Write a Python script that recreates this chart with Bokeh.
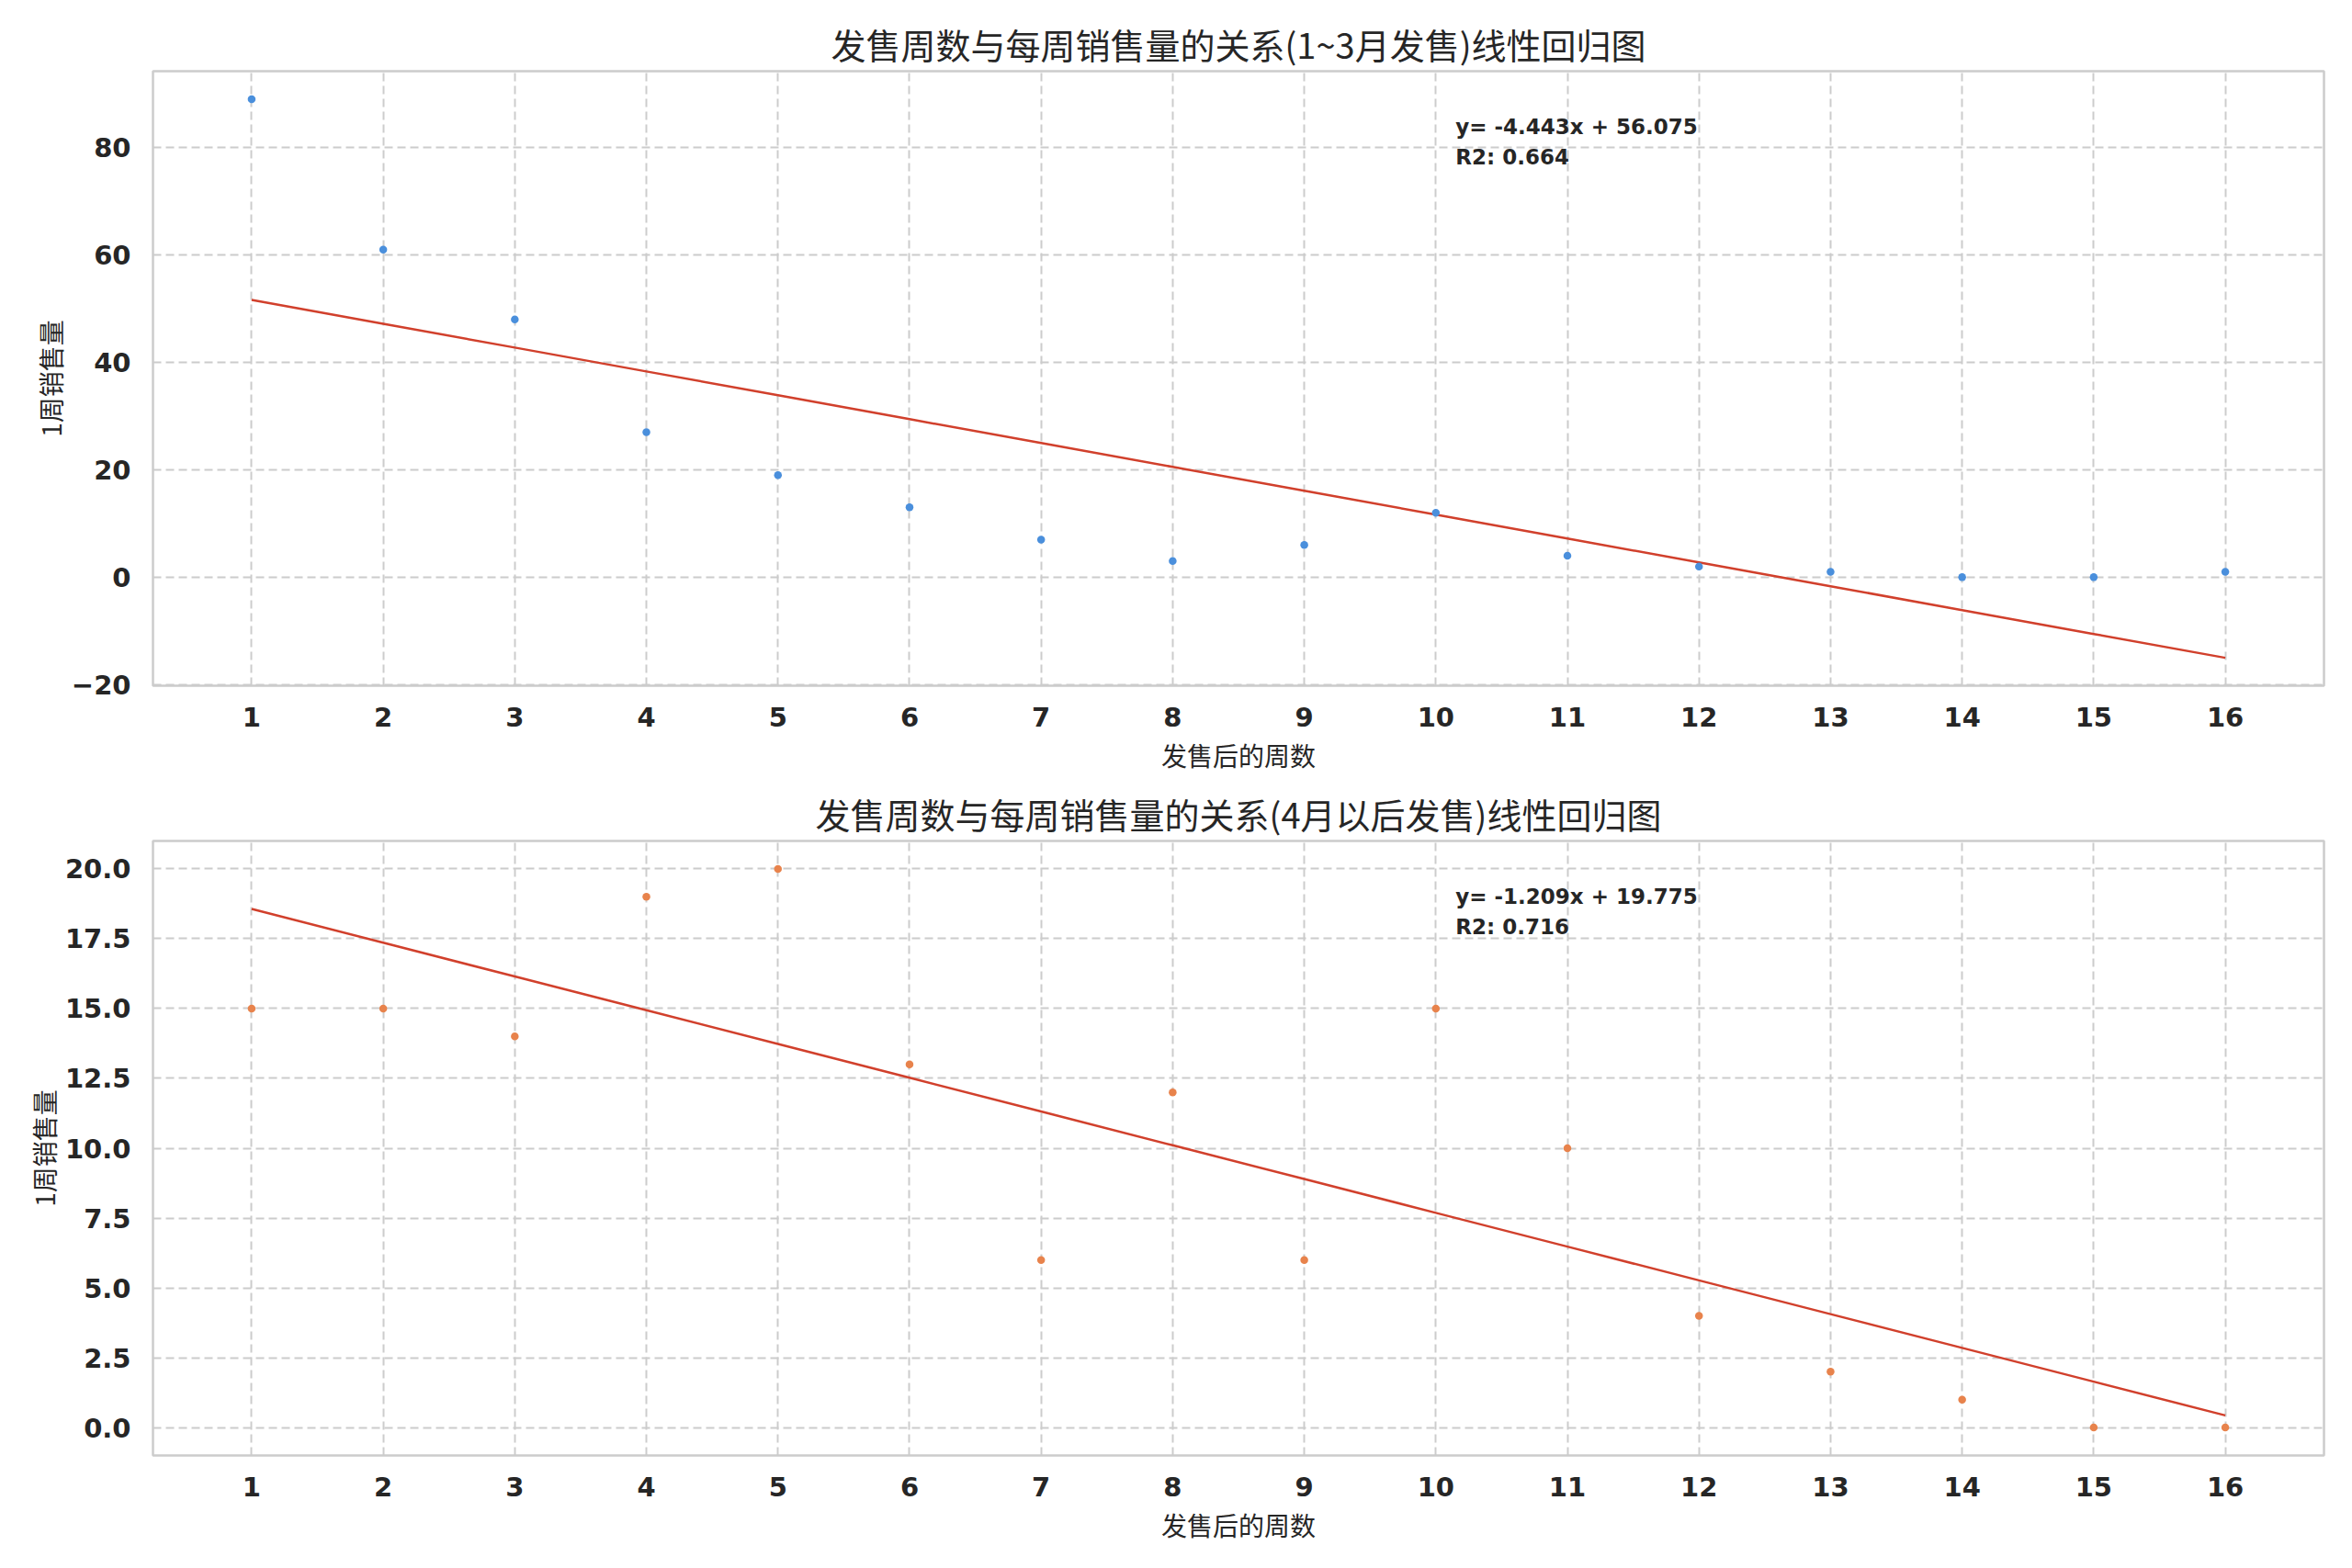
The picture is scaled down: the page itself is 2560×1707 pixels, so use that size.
import numpy as np
from bokeh.plotting import figure
from bokeh.layouts import column
from bokeh.models import FixedTicker, NumeralTickFormatter, Label, Range1d
from bokeh.embed import file_html
from bokeh.resources import INLINE

# ---- data ----
weeks = list(range(1, 17))
sales_early = [89, 61, 48, 27, 19, 13, 7, 3, 6, 12, 4, 2, 1, 0, 0, 1]
sales_late = [15, 15, 14, 19, 20, 13, 6, 12, 6, 15, 10, 4, 2, 1, 0, 0]

title_early = "发售周数与每周销售量的关系(1~3月发售)线性回归图"
title_late = "发售周数与每周销售量的关系(4月以后发售)线性回归图"
x_label = "发售后的周数"
y_label = "1周销售量"

x_ticks = list(range(1, 17))
y_ticks_early = [-20, 0, 20, 40, 60, 80]
y_ticks_late = [0.0, 2.5, 5.0, 7.5, 10.0, 12.5, 15.0, 17.5, 20.0]

COL_EARLY = "#4a8fdc"
COL_LATE = "#e8834c"
COL_FIT = "#d1402c"
TXT = "#262626"
GRID = "#cccccc"
CJK = "Noto Sans CJK SC"


def fit(x, y):
    x = np.asarray(x, float)
    y = np.asarray(y, float)
    slope, intercept = np.polyfit(x, y, 1)
    pred = slope * x + intercept
    r2 = 1 - np.sum((y - pred) ** 2) / np.sum((y - y.mean()) ** 2)
    return slope, intercept, pred, r2


def make(title, ys, color, y_range, yticks, fmt, top_border):
    slope, intercept, pred, r2 = fit(weeks, ys)
    p = figure(frame_width=2363, frame_height=669, output_backend="svg",
               toolbar_location=None, x_range=Range1d(0.25, 16.75),
               y_range=Range1d(*y_range),
               min_border_left=166, min_border_right=15,
               min_border_top=top_border, min_border_bottom=10,
               background_fill_color="white", border_fill_color="white")
    p.title.text = title
    p.title.align = "center"
    p.title.text_font = CJK
    p.title.text_font_size = "38px"
    p.title.text_font_style = "normal"
    p.title.text_color = TXT
    p.title.standoff = 6

    p.outline_line_color = GRID
    p.outline_line_width = 2.5

    for ax in (p.xaxis, p.yaxis):
        ax.axis_line_color = None
        ax.major_tick_line_color = None
        ax.minor_tick_line_color = None
        ax.major_label_text_font = "DejaVu Sans"
        ax.major_label_text_font_style = "bold"
        ax.major_label_text_font_size = "29px"
        ax.major_label_text_color = TXT
        ax.axis_label_text_font = CJK
        ax.axis_label_text_font_style = "normal"
        ax.axis_label_text_font_size = "28px"
        ax.axis_label_text_color = TXT
    p.xaxis.major_label_standoff = 17
    p.yaxis.major_label_standoff = 18
    p.xaxis.axis_label = x_label
    p.yaxis.axis_label = y_label
    p.xaxis.axis_label_standoff = 8
    p.yaxis.axis_label_standoff = 0
    p.xaxis.ticker = FixedTicker(ticks=x_ticks)
    p.yaxis.ticker = FixedTicker(ticks=yticks)
    if fmt:
        p.yaxis.formatter = NumeralTickFormatter(format=fmt)
    p.yaxis.major_label_overrides = {t: ("\u2212" + str(abs(t))) for t in yticks if t < 0}

    for g in (p.xgrid, p.ygrid):
        g.grid_line_color = GRID
        g.grid_line_width = 2
        g.grid_line_dash = "9 5"

    p.line(weeks, pred, line_color=COL_FIT, line_width=2.5)
    p.scatter(weeks, ys, size=8.5, fill_color=color, line_color=None)

    y0, y1 = y_range
    xt = 0.25 + 0.6 * (16.75 - 0.25)
    for frac, txt in ((0.071, f"y= {slope:.3f}x + {intercept:.3f}"),
                      (0.121, f"R2: {r2:.3f}")):
        p.add_layout(Label(x=xt, y=y1 - frac * (y1 - y0), text=txt,
                           text_font="DejaVu Sans", text_font_style="bold",
                           text_font_size="23px", text_color=TXT,
                           text_baseline="top", text_align="left"))
    return p


p1 = make(title_early, sales_early, COL_EARLY, (-20.2, 94.2), y_ticks_early, None, 77)
p2 = make(title_late, sales_late, COL_LATE, (-1.0, 21.0), y_ticks_late, "0.0", 71)

layout = column(p1, p2, spacing=0)
open("out.html", "w").write(file_html(layout, INLINE))
